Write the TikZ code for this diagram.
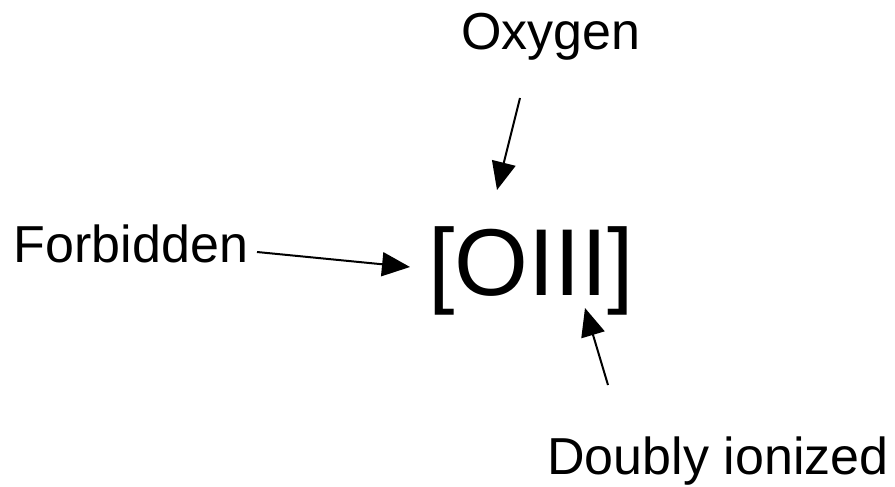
\documentclass[tikz,border=0pt]{standalone}
\usepackage{fontspec}
\setmainfont{Liberation Sans}
\usetikzlibrary{arrows.meta}
\tikzset{
  label/.style={inner sep=0pt, anchor=base, font=\fontsize{52}{60}\selectfont},
  big/.style={inner sep=0pt, anchor=base, font=\fontsize{95}{110}\selectfont},
  pointer/.style={line width=2pt, -{Triangle[length=28pt,width=24pt]}}
}
\begin{document}
\begin{tikzpicture}[x=1pt,y=-1pt]
  \useasboundingbox (0,0) rectangle (895,487);
  % labels and the ion name
  \node[label] (oxy) at (551,50) {Oxygen};
  \node[label] (forb) at (131,262) {Forbidden};
  \node[label] (ion) at (718,474) {Doubly ionized};
  \node[big] (oiii) at (531,295) {[OIII]};
  % arrow ends
  \coordinate (oxyS) at (520,98);
  \coordinate (oxyT) at (497,190);
  \coordinate (forbS) at (257,252);
  \coordinate (forbT) at (410,267);
  \coordinate (ionS) at (608,385);
  \coordinate (ionT) at (585,308);
  \draw[pointer] (oxyS) -- (oxyT);
  \draw[pointer] (forbS) -- (forbT);
  \draw[pointer] (ionS) -- (ionT);
\end{tikzpicture}
\end{document}
